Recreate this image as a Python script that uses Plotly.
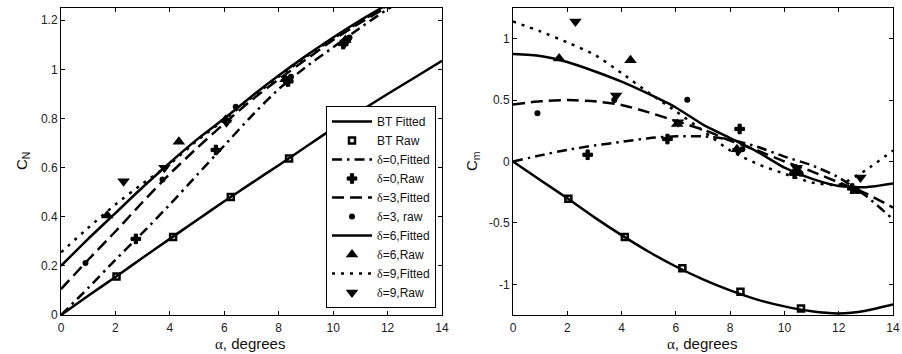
import plotly.graph_objects as go

# ---------------- data: normal force coefficient C_N ----------------
alpha_fit = [0, 1, 2, 3, 4, 5, 6, 7, 8, 9, 10, 11, 12, 13, 14]
alpha_fit13 = [0, 1, 2, 3, 4, 5, 6, 7, 8, 9, 10, 11, 12, 13]

cn_bt_fit = [0, 0.078, 0.155, 0.233, 0.31, 0.387, 0.463, 0.537, 0.61, 0.685, 0.76, 0.83, 0.90, 0.967, 1.035]
cn_d0_fit = [0, 0.11, 0.225, 0.335, 0.45, 0.57, 0.69, 0.81, 0.92, 1.01, 1.09, 1.17, 1.245, 1.31]
cn_d3_fit = [0.105, 0.225, 0.34, 0.46, 0.575, 0.68, 0.78, 0.875, 0.96, 1.04, 1.12, 1.19, 1.255, 1.32]
cn_d6_fit = [0.20, 0.31, 0.415, 0.52, 0.62, 0.715, 0.80, 0.89, 0.975, 1.055, 1.13, 1.20, 1.265, 1.33]
cn_d9_fit = [0.255, 0.355, 0.45, 0.535, 0.615, 0.71, 0.795, 0.885, 0.97, 1.05, 1.125, 1.195, 1.26, 1.325]

alpha_bt_raw = [2.04, 4.12, 6.24, 8.38, 10.61]
cn_bt_raw = [0.157, 0.318, 0.48, 0.637, 0.808]
alpha_d0_raw = [2.75, 5.69, 8.35, 10.37, 12.5]
cn_d0_raw = [0.31, 0.672, 0.951, 1.103, 1.28]
alpha_d3_raw = [0.9, 3.73, 6.42, 8.45, 10.6, 12.7]
cn_d3_raw = [0.212, 0.552, 0.848, 0.97, 1.13, 1.29]
alpha_d6_raw = [1.7, 4.33, 6.05, 8.25, 10.45, 12.62]
cn_d6_raw = [0.405, 0.705, 0.795, 0.96, 1.12, 1.30]
alpha_d9_raw = [2.3, 3.8, 6.08, 8.3, 10.45, 12.8]
cn_d9_raw = [0.545, 0.60, 0.785, 0.95, 1.11, 1.30]

# ---------------- data: pitching moment coefficient C_m ----------------
cm_bt_fit = [0, -0.15, -0.30, -0.455, -0.60, -0.735, -0.855, -0.96, -1.05, -1.125, -1.18, -1.22, -1.237, -1.215, -1.165]
cm_d0_fit = [0, 0.05, 0.095, 0.13, 0.16, 0.19, 0.205, 0.205, 0.18, 0.12, 0.04, -0.03, -0.13, -0.28, -0.47]
cm_d3_fit = [0.465, 0.49, 0.50, 0.49, 0.46, 0.40, 0.33, 0.26, 0.17, 0.09, 0.0, -0.08, -0.17, -0.26, -0.375]
cm_d6_fit = [0.875, 0.86, 0.81, 0.735, 0.65, 0.55, 0.44, 0.30, 0.19, 0.08, -0.05, -0.14, -0.20, -0.21, -0.18]
cm_d9_fit = [1.14, 1.06, 0.97, 0.87, 0.72, 0.56, 0.41, 0.25, 0.09, -0.02, -0.10, -0.17, -0.19, -0.07, 0.09]

cm_bt_raw = [-0.303, -0.615, -0.869, -1.06, -1.197]
cm_d0_raw = [0.055, 0.183, 0.265, -0.10, -0.22]
cm_d3_raw = [0.393, 0.50, 0.503, 0.10, -0.10, -0.24]
cm_d6_raw = [0.839, 0.825, 0.306, 0.10, -0.063, -0.24]
cm_d9_raw = [1.14, 0.538, 0.32, 0.087, -0.05, -0.13]

# ---------------- tick labels ----------------
x_ticks = [0, 2, 4, 6, 8, 10, 12, 14]
x_ticktext = ["0", "2", "4", "6", "8", "10", "12", "14"]
cn_ticks = [0, 0.2, 0.4, 0.6, 0.8, 1.0, 1.2]
cn_ticktext = ["0", "0.2", "0.4", "0.6", "0.8", "1", "1.2"]
cm_ticks = [-1, -0.5, 0, 0.5, 1]
cm_ticktext = ["-1", "-0.5", "0", "0.5", "1"]

SERIF = "'Liberation Serif', 'DejaVu Serif', serif"
d = '<span style="font-family:%s">δ</span>' % SERIF
names = ["BT Fitted", "BT Raw",
         d + "=0,Fitted", d + "=0,Raw",
         d + "=3,Fitted", d + "=3, raw",
         d + "=6,Fitted", d + "=6,Raw",
         d + "=9,Fitted", d + "=9,Raw"]

LW = 2.5
K = "black"
dash_dd = "10px,5px,2.5px,5px"
dash_da = "12px,6px"
dash_do = "3px,6px"

fig = go.Figure()


def add_fit(x, y, name, dash, xa, ya, show):
    fig.add_trace(go.Scatter(x=x, y=y, mode="lines", name=name, showlegend=show,
                             line=dict(color=K, width=LW, dash=dash, shape="spline", smoothing=0.6),
                             xaxis=xa, yaxis=ya))


def add_raw(x, y, name, marker, xa, ya, show):
    fig.add_trace(go.Scatter(x=x, y=y, mode="markers", name=name, showlegend=show,
                             marker=marker, xaxis=xa, yaxis=ya))


m_sq = dict(symbol="square-open", size=6, color=K, line=dict(width=2.5, color=K))
m_cross = dict(symbol="cross", size=8, color=K, line=dict(width=1, color=K))
m_dot = dict(symbol="circle", size=6, color=K, line=dict(width=0))
m_tu = dict(symbol="triangle-up", size=11, color=K, line=dict(width=0))
m_td = dict(symbol="triangle-down", size=11, color=K, line=dict(width=0))

# left panel (legend)
add_fit(alpha_fit, cn_bt_fit, names[0], "solid", "x", "y", True)
add_raw(alpha_bt_raw, cn_bt_raw, names[1], m_sq, "x", "y", True)
add_fit(alpha_fit13, cn_d0_fit, names[2], dash_dd, "x", "y", True)
add_raw(alpha_d0_raw, cn_d0_raw, names[3], m_cross, "x", "y", True)
add_fit(alpha_fit13, cn_d3_fit, names[4], dash_da, "x", "y", True)
add_raw(alpha_d3_raw, cn_d3_raw, names[5], m_dot, "x", "y", True)
add_fit(alpha_fit13, cn_d6_fit, names[6], "solid", "x", "y", True)
add_raw(alpha_d6_raw, cn_d6_raw, names[7], m_tu, "x", "y", True)
add_fit(alpha_fit13, cn_d9_fit, names[8], dash_do, "x", "y", True)
add_raw(alpha_d9_raw, cn_d9_raw, names[9], m_td, "x", "y", True)

# right panel
add_fit(alpha_fit, cm_bt_fit, names[0], "solid", "x2", "y2", False)
add_raw(alpha_bt_raw, cm_bt_raw, names[1], m_sq, "x2", "y2", False)
add_fit(alpha_fit, cm_d0_fit, names[2], dash_dd, "x2", "y2", False)
add_raw(alpha_d0_raw, cm_d0_raw, names[3], m_cross, "x2", "y2", False)
add_fit(alpha_fit, cm_d3_fit, names[4], dash_da, "x2", "y2", False)
add_raw(alpha_d3_raw, cm_d3_raw, names[5], m_dot, "x2", "y2", False)
add_fit(alpha_fit, cm_d6_fit, names[6], "solid", "x2", "y2", False)
add_raw(alpha_d6_raw, cm_d6_raw, names[7], m_tu, "x2", "y2", False)
add_fit(alpha_fit, cm_d9_fit, names[8], dash_do, "x2", "y2", False)
add_raw(alpha_d9_raw, cm_d9_raw, names[9], m_td, "x2", "y2", False)

FONT = "'Liberation Sans', Arial, sans-serif"
tickfont = dict(family=FONT, size=12, color="#222")
axis_common = dict(showline=True, linecolor=K, linewidth=1, mirror="ticks",
                   ticks="inside", ticklen=4, tickwidth=1, tickcolor=K,
                   showgrid=False, zeroline=False, tickfont=tickfont, automargin=False,
                   ticklabeloverflow="allow")

W, H = 902, 354
L, T = 61, 8
R = W - 893
B = H - 315
PW, PH = W - L - R, H - T - B


def px(x):
    return (x - L) / PW


def py(y):
    return (H - B - y) / PH


fig.update_layout(
    width=W, height=H,
    margin=dict(l=L, r=R, t=T, b=B, pad=0),
    paper_bgcolor="white", plot_bgcolor="white",
    font=dict(family=FONT, size=12, color=K),
    xaxis=dict(domain=[0, px(442)], range=[0, 14], tickvals=x_ticks, ticktext=x_ticktext,
               ticklabelstandoff=2, **axis_common),
    yaxis=dict(domain=[0, 1], range=[0, 1.25], tickvals=cn_ticks, ticktext=cn_ticktext, **axis_common),
    xaxis2=dict(domain=[px(513), 1], range=[0, 14], tickvals=x_ticks, ticktext=x_ticktext,
                ticklabelstandoff=2, anchor="y2", **axis_common),
    yaxis2=dict(domain=[0, 1], range=[-1.25, 1.25], tickvals=cm_ticks, ticktext=cm_ticktext,
                anchor="x2", **axis_common),
    legend=dict(x=px(436), y=py(308), xanchor="right", yanchor="bottom",
                bgcolor="white", bordercolor=K, borderwidth=1,
                font=dict(family=FONT, size=12, color="#111"),
                itemwidth=40, tracegroupgap=0, traceorder="normal"),
    showlegend=True,
)

a = '<span style="font-family:%s">α</span>, degrees' % SERIF
title_font = dict(family=FONT, size=15, color="#111")
fig.add_annotation(text=a, x=px(250), y=py(343), xref="paper", yref="paper",
                   showarrow=False, font=title_font, xanchor="center", yanchor="middle")
fig.add_annotation(text=a, x=px(702), y=py(343), xref="paper", yref="paper",
                   showarrow=False, font=title_font, xanchor="center", yanchor="middle")
fig.add_annotation(text="C<sub>N</sub>", x=px(22), y=py(161), xref="paper", yref="paper",
                   showarrow=False, font=title_font, textangle=-90, xanchor="center", yanchor="middle")
fig.add_annotation(text="C<sub>m</sub>", x=px(472), y=py(161), xref="paper", yref="paper",
                   showarrow=False, font=title_font, textangle=-90, xanchor="center", yanchor="middle")

# remove the browser's default 8 px page margin so the figure sits at the window origin
fig.write_html("out.html",
               config={"displayModeBar": False},
               post_script="document.body.style.margin='0';document.body.style.overflow='hidden';")
